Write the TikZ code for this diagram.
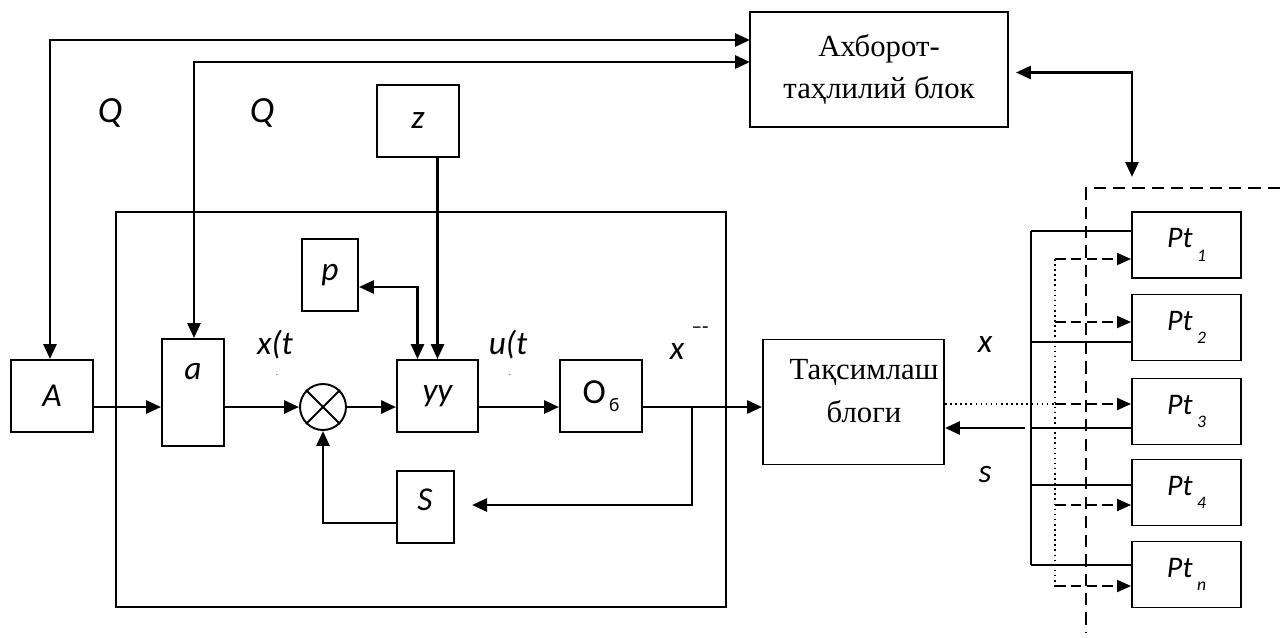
\documentclass[tikz,border=0pt]{standalone}
\usepackage{fontspec}
\setmainfont{Liberation Serif}
\newfontfamily\calfont{Carlito}
\usetikzlibrary{arrows.meta,calc}
\newcommand{\ptsub}[1]{Pt\kern2.5pt\raisebox{-0.45em}{\fontsize{10}{10}\selectfont #1}}

\begin{document}
\begin{tikzpicture}[x=0.02cm,y=-0.02cm,
  blk/.style={draw,line width=1.1pt,inner sep=0pt},
  lbl/.style={font=\calfont\itshape\fontsize{19}{22}\selectfont,inner sep=0pt},
  ser/.style={font=\fontsize{17.5}{24}\selectfont,align=center,inner sep=0pt},
  ptbox/.style={blk,minimum width=2.18cm,minimum height=1.32cm,font=\calfont\itshape\fontsize{17}{20}\selectfont},
  arr/.style={line width=1.6pt,-{Triangle[length=0.3cm,width=0.26cm]}},
  dbl/.style={line width=1.6pt,{Triangle[length=0.3cm,width=0.26cm]}-{Triangle[length=0.3cm,width=0.26cm]}},
  ln/.style={line width=0.9pt},
  dasharr/.style={line width=1.1pt,dash pattern=on 6pt off 3pt,-{Triangle[length=0.28cm,width=0.24cm]}}]
    \useasboundingbox (0,0) rectangle (1280,637);

    % blocks
    \node[blk,minimum width=5.16cm,minimum height=2.3cm,ser] (info) at (879,69.5) {Ахборот-\\таҳлилий блок};
    \node[blk,minimum width=12.2cm,minimum height=7.9cm] (plant) at (421,409.5) {};
    \node[blk,minimum width=1.64cm,minimum height=1.44cm,lbl] (A) at (52,396) {A};
    \node[blk,minimum width=1.24cm,minimum height=2.14cm] (ba) at (193,392.5) {};
    \node[lbl] (la) at (193,372) {a};
    \node[draw,line width=1.1pt,circle,minimum size=0.92cm,inner sep=0pt] (sum) at (323,407) {};
    \draw[line width=1.1pt] (sum.north west) -- (sum.south east) (sum.north east) -- (sum.south west);
    \node[blk,minimum width=1.62cm,minimum height=1.44cm,lbl] (yy) at (437.5,396) {yy};
    \node[blk,minimum width=1.12cm,minimum height=1.44cm,lbl] (p) at (330,275) {p};
    \node[blk,minimum width=1.64cm,minimum height=1.44cm,lbl] (z) at (418,121) {z};
    \node[blk,minimum width=1.14cm,minimum height=1.44cm] (S) at (425.5,507) {};
    \node[lbl] (lS) at (425,500) {S};
    \node[blk,minimum width=1.64cm,minimum height=1.44cm,font=\calfont\fontsize{20}{22}\selectfont] (ob) at (601,396) {O\raisebox{-0.5ex}{\fontsize{11}{11}\selectfont\,б}};
    \node[blk,minimum width=3.62cm,minimum height=2.5cm] (taq) at (853.5,402) {};
    \node[ser] (taqt) at (864,391) {Тақсимлаш\\блоги};
    \foreach \nm/\yc/\s in {pt1/245/1,pt2/327.5/2,pt3/411.5/3,pt4/492.5/4,ptn/574.5/n}
        \node[ptbox] (\nm) at (1186.5,\yc) {\ptsub{\s}};

    % labels
    \node[lbl,font=\calfont\itshape\fontsize{21}{22}\selectfont] (q1) at (110,113) {Q};
    \node[lbl,font=\calfont\itshape\fontsize{21}{22}\selectfont] (q2) at (262,113) {Q};
    \node[lbl] (xt) at (275,345) {x(t};
    \node[lbl] (ut) at (508,345) {u(t};
    \node[lbl,font=\tiny] (d1) at (277,375) {.};
    \node[lbl,font=\tiny] (d2) at (510,375) {.};
    \node[lbl] (xb) at (677,352) {x};
    \node[lbl,font=\calfont\fontsize{12}{12}\selectfont] (xs) at (700,330) {–-};
    \node[lbl] (xr) at (985,345) {x};
    \node[lbl] (sr) at (985,475) {s};

    % helper points
    \coordinate (ml) at (0,407);
    \coordinate (t1) at (750,40);
    \coordinate (t2) at (750,62);
    \coordinate (fb) at (692,407);
    \coordinate (fbe) at (472,505);
    \coordinate (rt) at (1132,177);
    \coordinate (bus) at (1031,0);
    \coordinate (dv) at (1055,0);
    \coordinate (ss) at (1025,428);

    % connectors
    \draw[dbl] (A.north -| 50,0) |- (t1);
    \draw[dbl] (ba.north -| 194,0) |- (t2);
    \draw[arr] (yy.north |- z.south) -- (yy.north);
    \draw[dbl] ($(p.east)+(0,12)$) -| ($(yy.north)+(-20,0)$);
    \draw[arr] (A.east |- ml) -- (ba.west |- ml);
    \draw[arr] (ba.east |- ml) -- (sum.west);
    \draw[arr] (sum.east) -- (yy.west |- ml);
    \draw[arr] (yy.east |- ml) -- (ob.west |- ml);
    \draw[arr] (ob.east |- ml) -- (taq.west |- ml);
    \draw[arr] (fb) |- (fbe);
    \draw[arr] ($(S.west)+(0,16)$) -| (sum.south);
    \draw[dbl] ($(info.east)+(7,3)$) -| (rt);
    \draw[line width=1.1pt,dash pattern=on 7pt off 4pt] (1280,188) -| (1086,633);

    % bus to the Pt blocks
    \draw[ln] (bus |- 0,231) -- (bus |- 0,565);
    \draw[ln,dotted] (dv |- 0,259) -- (dv |- 0,587);
    \draw[ln,dotted] (taq.east |- 0,404) -- (dv |- 0,404);
    \foreach \nm/\yl/\ya in {pt1/231/259,pt2/342/322,pt3/428/404,pt4/485/505,ptn/565/586} {
        \draw[ln] (bus |- 0,\yl) -- (\nm.west |- 0,\yl);
        \draw[dasharr] (dv |- 0,\ya) -- (\nm.west |- 0,\ya);
    }
    \draw[arr] (ss) -- (taq.east |- ss);
\end{tikzpicture}
\end{document}
